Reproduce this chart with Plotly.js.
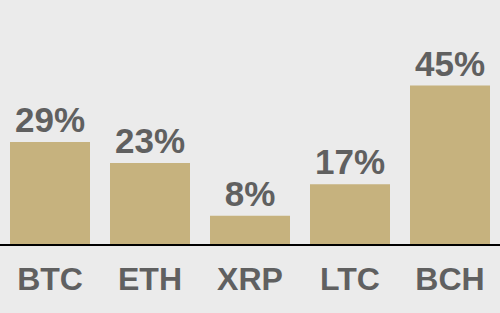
<!DOCTYPE html>
<html><head><meta charset="utf-8">
<script src="https://cdn.plot.ly/plotly-3.0.1.min.js"></script>
<style>html,body{margin:0;padding:0;background:#ebebeb;}#chart{width:500px;height:313px;}</style>
</head><body><div id="chart"></div>
<script>
var categories = ["BTC", "ETH", "XRP", "LTC", "BCH"];
var values = [29, 23, 8, 17, 45];
var labels = values.map(function(v){ return v + "%"; });

var trace = {
  type: "bar",
  x: categories,
  y: values,
  text: labels,
  textposition: "outside",
  cliponaxis: false,
  textfont: {family: "Liberation Sans, Arial, sans-serif", size: 35, color: "#606060", weight: "bold"},
  marker: {color: "#c6b27e"},
  width: 0.8,
  hoverinfo: "none"
};
var layout = {
  width: 500, height: 313,
  margin: {l: 0, r: 0, t: 68, b: 69, pad: 0},
  paper_bgcolor: "#ebebeb",
  plot_bgcolor: "#ebebeb",
  showlegend: false,
  xaxis: {
    showline: true, linecolor: "#000000", linewidth: 1.5,
    showgrid: false, ticks: "",
    tickfont: {family: "Liberation Sans, Arial, sans-serif", size: 32, color: "#606060", weight: "bold"},
    ticklabelstandoff: 6
  },
  yaxis: {range: [0, 50], visible: false, showgrid: false, zeroline: false},
  uniformtext: {mode: false}
};
Plotly.newPlot("chart", [trace], layout, {staticPlot: true, displayModeBar: false});
</script></body></html>
